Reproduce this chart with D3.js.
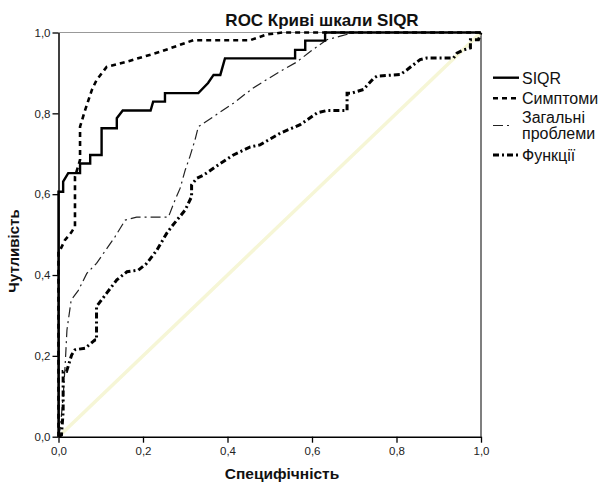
<!DOCTYPE html>
<html><head><meta charset="utf-8">
<script src="https://cdn.jsdelivr.net/npm/d3@7"></script>
<style>
html,body{margin:0;padding:0;background:#fff;}
text{font-family:"Liberation Sans",Arial,sans-serif;}
</style></head>
<body><svg id="c" width="604" height="483"></svg>
<script>
const titleText = "ROC Криві шкали SIQR";
const xTitle = "Специфічність";
const yTitle = "Чутливість";
const tickValues = [0, 0.2, 0.4, 0.6, 0.8, 1.0];
const seriesNames = ["SIQR", "Симптоми", "Загальні проблеми", "Функції"];

// ROC points [1 - specificity, sensitivity]
const siqrPts = [[0,0],[0,0.606],[0.011,0.606],[0.011,0.631],[0.023,0.652],[0.051,0.652],[0.051,0.676],[0.075,0.676],[0.075,0.697],[0.102,0.697],[0.102,0.763],[0.138,0.763],[0.138,0.788],[0.152,0.807],[0.218,0.807],[0.224,0.829],[0.252,0.829],[0.252,0.85],[0.331,0.85],[0.354,0.875],[0.367,0.895],[0.383,0.895],[0.394,0.936],[0.56,0.936],[0.56,0.957],[0.584,0.957],[0.584,0.98],[0.631,0.98],[0.631,1.0],[1,1]];
const symptPts = [[0,0],[0,0.46],[0.004,0.462],[0.015,0.486],[0.03,0.505],[0.039,0.52],[0.039,0.643],[0.051,0.685],[0.051,0.767],[0.063,0.808],[0.079,0.858],[0.09,0.882],[0.114,0.915],[0.162,0.928],[0.24,0.952],[0.319,0.981],[0.454,0.981],[0.493,0.995],[0.53,1.0],[1,1]];
const generalPts = [[0,0],[0.004,0.02],[0.011,0.099],[0.016,0.182],[0.02,0.264],[0.03,0.338],[0.047,0.362],[0.067,0.404],[0.09,0.429],[0.134,0.495],[0.158,0.536],[0.185,0.543],[0.26,0.543],[0.276,0.586],[0.288,0.615],[0.3,0.66],[0.311,0.693],[0.323,0.734],[0.331,0.767],[0.367,0.792],[0.414,0.825],[0.461,0.863],[0.525,0.904],[0.564,0.927],[0.596,0.953],[0.635,0.982],[0.667,0.991],[0.7,1.0],[1,1]];
const functPts = [[0,0],[0.007,0.004],[0.011,0.062],[0.011,0.161],[0.019,0.161],[0.031,0.202],[0.039,0.215],[0.063,0.219],[0.086,0.239],[0.09,0.239],[0.09,0.322],[0.114,0.355],[0.138,0.388],[0.162,0.408],[0.189,0.412],[0.209,0.429],[0.233,0.462],[0.256,0.503],[0.268,0.52],[0.3,0.561],[0.315,0.594],[0.315,0.623],[0.327,0.639],[0.343,0.647],[0.383,0.676],[0.414,0.697],[0.454,0.717],[0.477,0.722],[0.525,0.751],[0.572,0.772],[0.612,0.801],[0.635,0.807],[0.683,0.807],[0.683,0.85],[0.694,0.85],[0.722,0.859],[0.746,0.887],[0.754,0.892],[0.809,0.896],[0.825,0.908],[0.856,0.933],[0.872,0.937],[0.935,0.937],[0.943,0.949],[0.959,0.957],[0.975,0.962],[0.975,0.982],[0.994,0.982],[1,1]];
const refPts = [[0,0],[1,1]];

const svg = d3.select("#c");
const x = d3.scaleLinear().domain([0,1]).range([58.5,481]);
const y = d3.scaleLinear().domain([0,1]).range([436.7,32.5]);
const fmt = d => d3.format(".1f")(d).replace(".", ",");

const styles = [
  {pts: siqrPts, w: 2.4, dash: null, color: "#000", legLen: 26},
  {pts: symptPts, w: 2.6, dash: "5,4", color: "#000", legLen: 26},
  {pts: generalPts, w: 1.2, dash: "10,4,2,4", color: "#222", legLen: 16},
  {pts: functPts, w: 3, dash: "6,3,2,3", color: "#000", legLen: 26}
];

// frame top/right
svg.append("line").attr("x1", x(0)).attr("x2", x(1)).attr("y1", y(1)).attr("y2", y(1)).attr("stroke", "#999").attr("stroke-width", 1.2);
svg.append("line").attr("x1", x(1)).attr("x2", x(1)).attr("y1", y(1)).attr("y2", y(0)).attr("stroke", "#555").attr("stroke-width", 1.5);

const line = d3.line().x(d => x(d[0])).y(d => y(d[1]));
svg.append("path").attr("d", line(refPts)).attr("stroke", "#f6f6d6").attr("stroke-width", 3.5).attr("fill", "none");

[2, 3, 1, 0].forEach(i => {
  const s = styles[i];
  svg.append("path").attr("d", line(s.pts)).attr("fill", "none")
    .attr("stroke", s.color).attr("stroke-width", s.w)
    .attr("stroke-dasharray", s.dash).attr("stroke-linejoin", "miter");
});

// axes
const ax = svg.append("g").attr("transform", `translate(0,${y(0)})`)
  .call(d3.axisBottom(x).tickValues(tickValues).tickFormat(fmt).tickSize(6).tickSizeOuter(0));
const ay = svg.append("g").attr("transform", `translate(${x(0)},0)`)
  .call(d3.axisLeft(y).tickValues(tickValues).tickFormat(fmt).tickSize(6).tickSizeOuter(0));
[ax, ay].forEach(g => {
  g.select(".domain").attr("stroke", "#000").attr("stroke-width", 1.5);
  g.selectAll(".tick line").attr("stroke", "#000").attr("stroke-width", 1.3);
  g.selectAll(".tick text").attr("font-family", "Liberation Sans, Arial, sans-serif").attr("font-size", 11.5).attr("fill", "#222");
});
ax.selectAll(".tick text").attr("dy", "0.71em").attr("y", 10);
ay.selectAll(".tick text").attr("x", -8);

// titles
svg.append("text").attr("x", 322).attr("y", 26).attr("text-anchor", "middle")
  .attr("font-size", 17).attr("font-weight", "bold").attr("fill", "#111").text(titleText);
svg.append("text").attr("x", 282).attr("y", 479).attr("text-anchor", "middle")
  .attr("font-size", 15.5).attr("font-weight", "bold").attr("fill", "#111").text(xTitle);
svg.append("text").attr("transform", "translate(19,251) rotate(-90)").attr("text-anchor", "middle")
  .attr("font-size", 15).attr("font-weight", "bold").attr("fill", "#111").text(yTitle);

// legend
const legRows = [
  {i: 0, ly: 77.7, lines: [seriesNames[0]], ty: [83.5]},
  {i: 1, ly: 98.3, lines: [seriesNames[1]], ty: [104]},
  {i: 2, ly: 125.5, lines: ["Загальні", "проблеми"], ty: [123, 139]},
  {i: 3, ly: 155, lines: [seriesNames[3]], ty: [160.5]}
];
legRows.forEach(r => {
  const s = styles[r.i];
  svg.append("line").attr("x1", 493).attr("x2", 493 + s.legLen).attr("y1", r.ly).attr("y2", r.ly)
    .attr("stroke", s.color).attr("stroke-width", s.w).attr("stroke-dasharray", s.dash);
  r.lines.forEach((t, k) => {
    svg.append("text").attr("x", 522).attr("y", r.ty[k]).attr("font-size", 16).attr("fill", "#111").text(t);
  });
});
</script>
</body></html>
